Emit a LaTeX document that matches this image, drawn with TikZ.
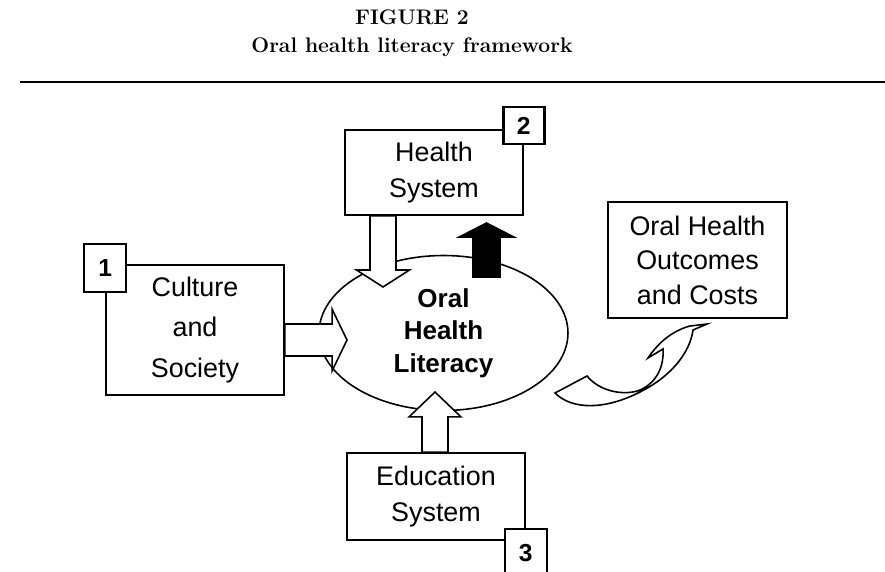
\documentclass[tikz,border=0pt]{standalone}
\usepackage{fontspec}
\newfontfamily\arialfont{Liberation Sans}
\usepackage{tikz}
\usetikzlibrary{calc}
\usetikzlibrary{shapes.geometric}

% block arrow: fill, from, to, half shaft, half head, head length
\newcommand{\fatarrow}[6]{%
	\coordinate (fa-base) at ($(#3)!#6!(#2)$);
	\draw[line width=0.9pt,fill=#1] ($(#2)!#4!90:(#3)$) -- ($(fa-base)!#4!-90:(#2)$) -- ($(fa-base)!#5!-90:(#2)$) -- (#3) -- ($(fa-base)!#5!90:(#2)$) -- ($(fa-base)!#4!90:(#2)$) -- ($(#2)!#4!-90:(#3)$) -- cycle;}

\begin{document}
\begin{tikzpicture}[x=0.02cm,y=-0.02cm]
	\useasboundingbox (0,0) rectangle (885,571);
	\tikzstyle{every node}=[inner sep=0pt]
	\tikzstyle{titletext}=[anchor=base,font=\fontsize{12}{14}\selectfont\bfseries]
	\tikzstyle{box}=[draw,line width=0.9pt,fill=white,minimum width=3.56cm,align=center,font=\arialfont\fontsize{15.3}{20}\selectfont]
	\tikzstyle{numbox}=[draw,line width=1.4pt,fill=white,minimum width=0.84cm,minimum height=0.96cm,font=\arialfont\bfseries\fontsize{14}{14}\selectfont]
	\node[titletext] (fig) at (412,25) {FIGURE 2};
	\node[titletext] (title) at (412,53) {Oral health literacy framework};
	\draw[line width=0.9pt] (20,82) -- (885,82);
	\node[box,minimum height=1.70cm] (health) at (434,172.5) {Health\\System};
	\node[box,minimum height=2.60cm,font=\arialfont\fontsize{15.3}{23.3}\selectfont] (culture) at (195,330) {Culture\\and\\Society};
	\node[box,minimum height=1.74cm] (education) at (436,496.5) {Education\\System};
	\node[box,minimum width=3.58cm,minimum height=2.32cm,font=\arialfont\fontsize{15.3}{19.6}\selectfont] (outcomes) at (697.5,260) {Oral Health\\Outcomes\\and Costs};
	\node[ellipse,draw,line width=0.9pt,fill=white,minimum width=4.98cm,minimum height=3.1cm,align=center,font=\arialfont\bfseries\fontsize{14.8}{18.5}\selectfont] (ohl) at (443.5,333) {Oral\\Health\\Literacy};
	\node[numbox] (n1) at ($(culture.north west)+(0,4)$) {1};
	\node[numbox,minimum width=0.82cm,minimum height=0.74cm] (n2) at ($(health.north east)+(0,-3.5)$) {2};
	\node[numbox] (n3) at ($(education.south east)+(0,12)$) {3};
	\coordinate (c1) at ($(culture.east)+(0,10)$);
	\coordinate (c2) at (347,340);
	\coordinate (h1) at ($(health.south)+(-51,0)$);
	\coordinate (h2) at (383,287);
	\coordinate (b1) at (486.5,277);
	\coordinate (b2) at (486.5,223);
	\coordinate (e1) at ($(education.north)+(-1,0)$);
	\coordinate (e2) at (435,392);
	\fatarrow{white}{c1}{c2}{9.1pt}{17.6pt}{8.5pt}
	\fatarrow{white}{h1}{h2}{7.4pt}{15.1pt}{9.7pt}
	\fatarrow{black}{b1}{b2}{7.7pt}{15.6pt}{8pt}
	\fatarrow{white}{e1}{e2}{7.4pt}{14.8pt}{14.2pt}
	\coordinate (t1) at (555,393);
	\coordinate (t2) at (707,324);
	\draw[line width=0.9pt,fill=white] (t1) .. controls (572,410) and (605,410) .. (640,392) .. controls (672,376) and (690,352) .. (693,330) -- (t2) -- (690,326) .. controls (675,330) and (660,340) .. (648,358) -- (663,349) .. controls (664,365) and (658,382) .. (640,390) .. controls (625,396) and (600,392) .. (587,376) -- cycle;
\end{tikzpicture}
\end{document}
